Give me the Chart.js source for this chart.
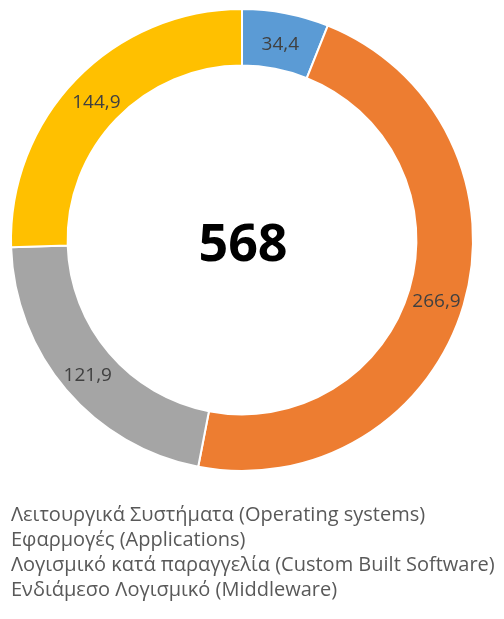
<!DOCTYPE html>
<html>
<head>
<meta charset="utf-8">
<script src="https://cdn.jsdelivr.net/npm/chart.js@4"></script>
<style>
  html, body { margin: 0; padding: 0; background: #fff; overflow: hidden; }
  body { width: 504px; height: 619px; position: relative; }
  #wrap { position: absolute; left: -16px; top: -20px; width: 520px; height: 639px; }
</style>
</head>
<body>
<div id="wrap"><canvas id="myChart"></canvas></div>
<script>
// Software market segments (values shown on the ring)
const categories = [
  'Λειτουργικά Συστήματα (Operating systems)',
  'Εφαρμογές (Applications)',
  'Λογισμικό κατά παραγγελία (Custom Built Software)',
  'Ενδιάμεσο Λογισμικό (Middleware)'
];
const values = [34.4, 266.9, 121.9, 144.9];
const colors = ['#5B9BD5', '#ED7D31', '#A5A5A5', '#FFC000'];
const totalLabel = '568';

// writes the value of each slice in the middle of its arc, with a decimal comma
const sliceLabels = {
  id: 'sliceLabels',
  afterDatasetsDraw(chart) {
    const ctx = chart.ctx;
    const meta = chart.getDatasetMeta(0);
    ctx.save();
    ctx.font = '19px "Open Sans"';
    ctx.fillStyle = '#404040';
    ctx.textAlign = 'center';
    ctx.textBaseline = 'middle';
    meta.data.forEach((arc, i) => {
      const pos = arc.tooltipPosition();
      ctx.fillText(values[i].toFixed(1).replace('.', ','), pos.x, pos.y + 4);
    });
    ctx.restore();
  }
};

// big total in the hole of the doughnut
const centerText = {
  id: 'centerText',
  afterDatasetsDraw(chart) {
    const arc = chart.getDatasetMeta(0).data[0];
    const ctx = chart.ctx;
    ctx.save();
    ctx.font = 'bold 52px "Open Sans"';
    ctx.fillStyle = '#000';
    ctx.textAlign = 'center';
    ctx.textBaseline = 'middle';
    ctx.fillText(totalLabel, arc.x + 1, arc.y + 6);
    ctx.restore();
  }
};

const myChart = document.getElementById('myChart');

let donut = new Chart(myChart, {
  type: 'doughnut',
  data: {
    labels: categories,
    datasets: [{
      data: values,
      backgroundColor: colors,
      borderColor: '#ffffff',
      borderWidth: 2,
      radius: 231,
      cutout: '75.5%'
    }]
  },
  options: {
    responsive: true,
    maintainAspectRatio: false,
    animation: false,
    layout: { padding: { top: 0, bottom: 9, left: 0, right: 4 } },
    plugins: {
      tooltip: { enabled: false },
      legend: {
        position: 'bottom',
        align: 'start',
        labels: {
          boxWidth: 12,
          boxHeight: 12,
          padding: 5,
          color: '#595959',
          font: { family: '"Open Sans"', size: 20 }
        }
      }
    }
  },
  plugins: [sliceLabels, centerText]
});
</script>
</body>
</html>
